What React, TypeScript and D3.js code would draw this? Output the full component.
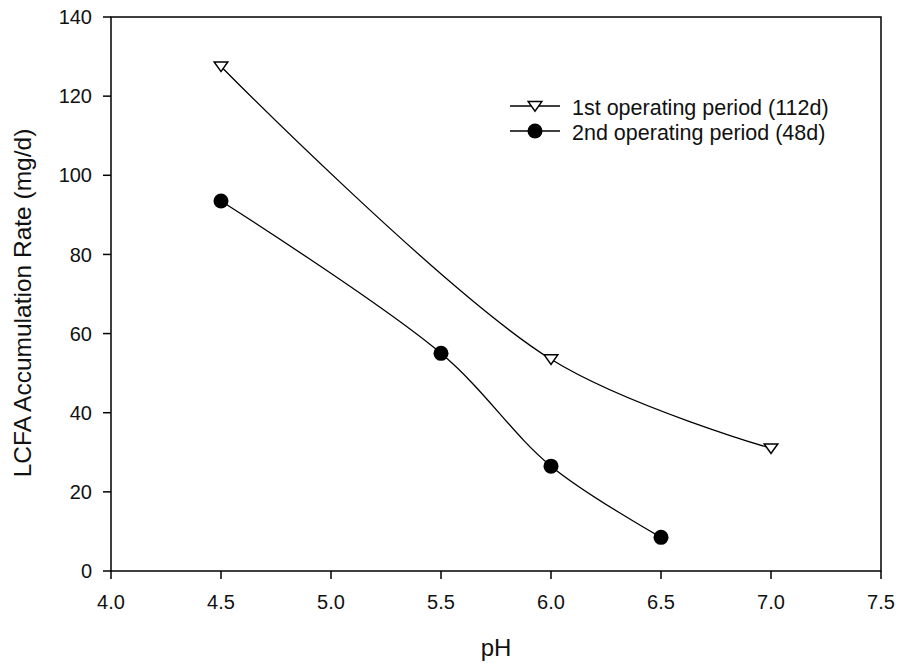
import React from "react";
import * as d3 from "d3";

const xTicks = [4.0, 4.5, 5.0, 5.5, 6.0, 6.5, 7.0, 7.5];
const yTicks = [0, 20, 40, 60, 80, 100, 120, 140];
const s1X = [4.5, 6.0, 7.0];
const s1Y = [127.5, 53.5, 31];
const s2X = [4.5, 5.5, 6.0, 6.5];
const s2Y = [93.5, 55, 26.5, 8.5];
const s1Name = "1st operating period (112d)";
const s2Name = "2nd operating period (48d)";

export default function App() {
  const W = 898, H = 663;
  const L = 111, R = 881, T = 17, B = 571;
  const x = d3.scaleLinear().domain([4.0, 7.5]).range([L, R]);
  const y = d3.scaleLinear().domain([0, 140]).range([B, T]);
  const line = d3.line<[number, number]>().x(d => x(d[0])).y(d => y(d[1])).curve(d3.curveCatmullRom.alpha(0.5));
  const p1 = s1X.map((v, i) => [v, s1Y[i]] as [number, number]);
  const p2 = s2X.map((v, i) => [v, s2Y[i]] as [number, number]);
  const font = "'Liberation Sans', Arial, sans-serif";
  const tri = (cx: number, cy: number, s = 6.8) =>
    `M${cx - s},${cy - s * 0.65} L${cx + s},${cy - s * 0.65} L${cx},${cy + s * 0.75} Z`;
  return (
    <svg width={W} height={H} style={{ position: "absolute", left: 0, top: 0, background: "#fff" }} fontFamily={font}>
      <rect x={L} y={T} width={R - L} height={B - T} fill="none" stroke="#000" strokeWidth={1.5} />
      {xTicks.map(t => (
        <g key={"x" + t}>
          <line x1={x(t)} x2={x(t)} y1={B} y2={B + 8} stroke="#000" strokeWidth={1.5} />
          <text x={x(t)} y={609} fontSize={20} textAnchor="middle" fill="#111">{t.toFixed(1)}</text>
        </g>
      ))}
      {yTicks.map(t => (
        <g key={"y" + t}>
          <line x1={L - 8} x2={L} y1={y(t)} y2={y(t)} stroke="#000" strokeWidth={1.5} />
          <text x={92} y={y(t) + 7.2} fontSize={20} textAnchor="end" fill="#111">{t}</text>
        </g>
      ))}
      <text x={x(5.75)} y={656} fontSize={24} textAnchor="middle" fill="#111">pH</text>
      <text transform={`translate(31,303) rotate(-90)`} fontSize={24.5} textAnchor="middle" fill="#111">
        LCFA Accumulation Rate (mg/d)
      </text>
      <path d={line(p1) || ""} fill="none" stroke="#000" strokeWidth={1.3} />
      <path d={line(p2) || ""} fill="none" stroke="#000" strokeWidth={1.3} />
      {p1.map((d, i) => (
        <path key={"a" + i} d={tri(x(d[0]), y(d[1]))} fill="#fff" stroke="#000" strokeWidth={1.5} />
      ))}
      {p2.map((d, i) => (
        <circle key={"b" + i} cx={x(d[0])} cy={y(d[1])} r={7.5} fill="#000" />
      ))}
      <g>
        <line x1={510} x2={560} y1={106} y2={106} stroke="#000" strokeWidth={1.3} />
        <path d={tri(535, 106)} fill="#fff" stroke="#000" strokeWidth={1.5} />
        <text x={572} y={115} fontSize={21.5} fill="#111">{s1Name}</text>
        <line x1={510} x2={560} y1={131} y2={131} stroke="#000" strokeWidth={1.3} />
        <circle cx={535} cy={131} r={7.5} fill="#000" />
        <text x={572} y={140} fontSize={21.5} fill="#111">{s2Name}</text>
      </g>
    </svg>
  );
}
